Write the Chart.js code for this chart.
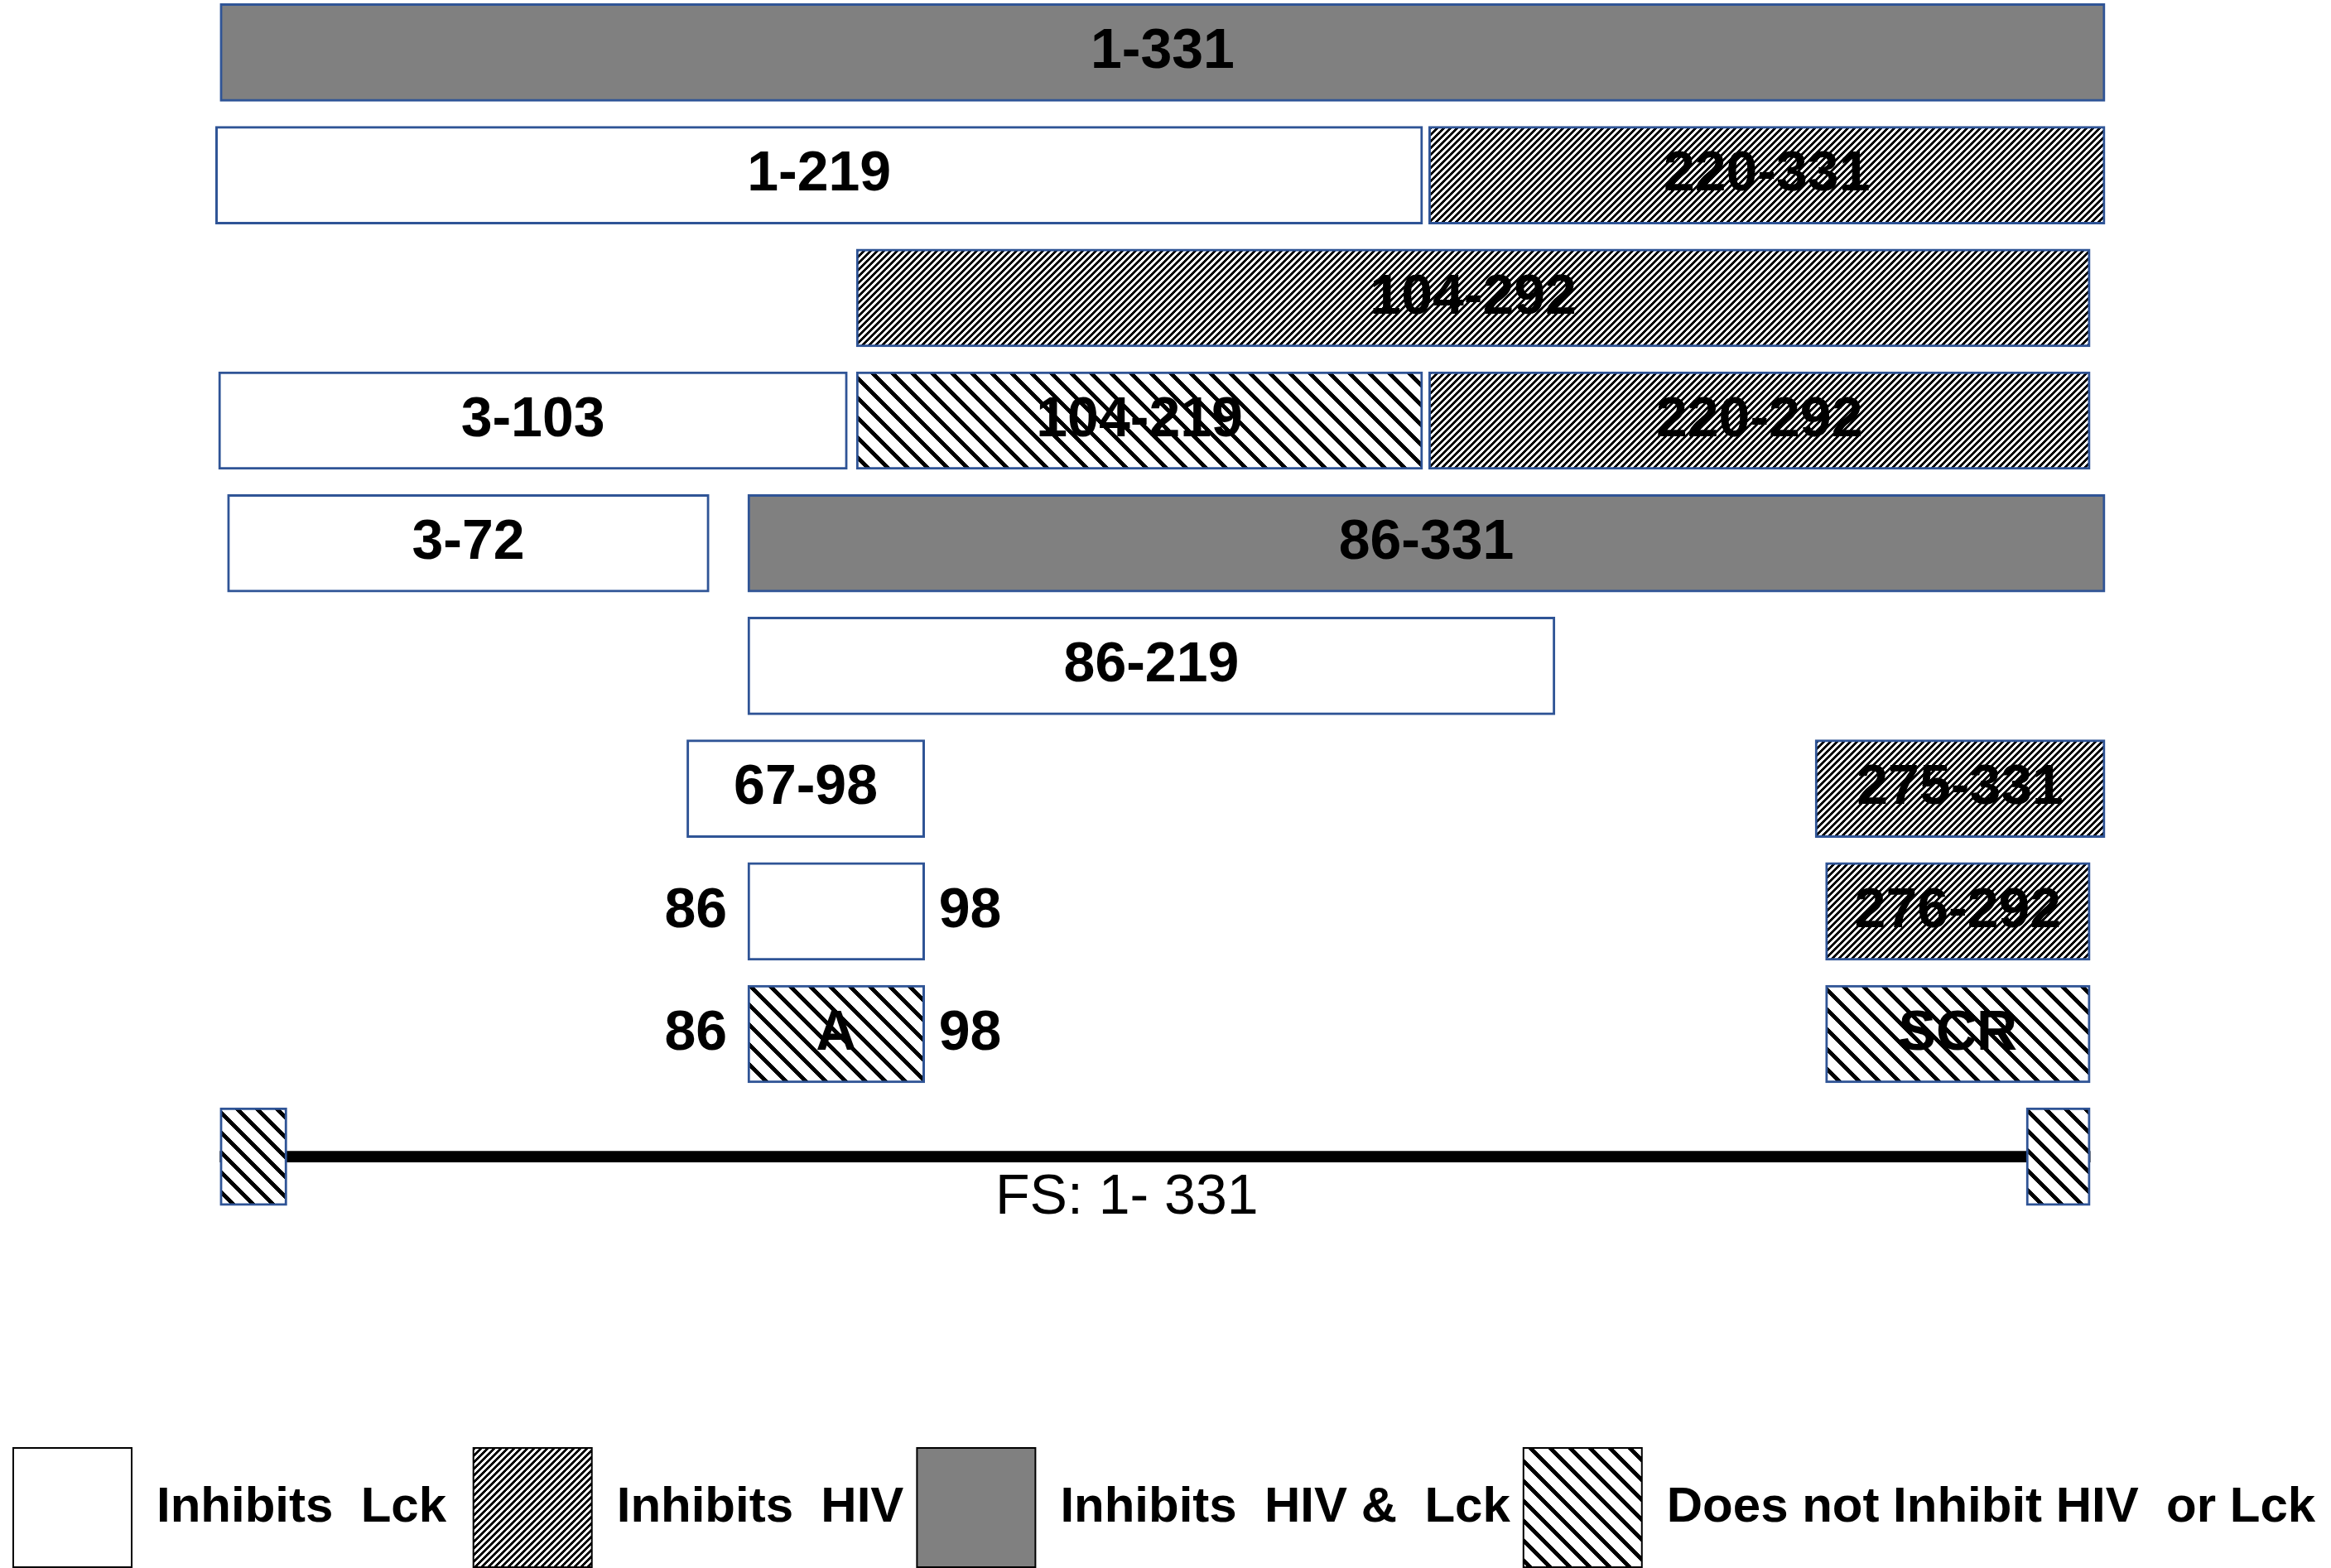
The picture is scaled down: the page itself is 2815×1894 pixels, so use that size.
<!DOCTYPE html>
<html>
<head>
<meta charset="utf-8">
<script src="https://cdn.jsdelivr.net/npm/chart.js@4.4.1/dist/chart.umd.min.js"></script>
<style>
  html, body { margin: 0; padding: 0; background: #fff; overflow: hidden; }
  #wrap { width: 2815px; height: 1894px; }
</style>
</head>
<body>
<div id="wrap"><canvas id="map"></canvas></div>
<script>
// fragments of the protein (positions read along the map, figure units 0-1568)
var fragLabels = ['1-331', '1-219', '220-331', '104-292', '3-103', '104-219', '220-292', '3-72', '86-331',
                  '86-219', '67-98', '275-331', '', '276-292', 'A', 'SCR', '', ''];
var fragRow    = [0, 1, 1, 2, 3, 3, 3, 4, 4, 5, 6, 6, 7, 7, 8, 8, 9, 9];
var fragStart  = [148, 145, 961, 576, 147, 576, 961, 153, 503, 503, 462, 1221, 503, 1228, 503, 1228, 148, 1363];
var fragEnd    = [1416, 957, 1416, 1406, 570, 957, 1406, 477, 1416, 1046, 622, 1416, 622, 1406, 622, 1406, 193, 1406];
var fragClass  = ['both', 'lck', 'hiv', 'hiv', 'lck', 'none', 'hiv', 'lck', 'both',
                  'lck', 'lck', 'hiv', 'lck', 'hiv', 'none', 'none', 'none', 'none'];
var flankLeft  = ['', '', '', '', '', '', '', '', '', '', '', '', '86', '', '86', '', '', ''];
var flankRight = ['', '', '', '', '', '', '', '', '', '', '', '', '98', '', '98', '', '', ''];

// full sequence line
var fsRow = 9;
var fsSpan = [148, 1406];
var captionText = ['FS: 1- 331'];
var captionX = [758];
var captionRow = [9];

// legend
var classKeys = ['lck', 'hiv', 'both', 'none'];
var legendText = ['Inhibits  Lck ', 'Inhibits  HIV', 'Inhibits  HIV &  Lck', 'Does not Inhibit HIV  or Lck'];

var FONT = '"Liberation Sans", Arial, sans-serif';
Chart.defaults.font.family = FONT;

var canvas = document.getElementById('map');
var ctx = canvas.getContext('2d');

// crisp stripe patterns, dir 1 = "/", dir -1 = "\"
function hatch(period, black, dir) {
    var c = document.createElement('canvas');
    c.width = period;
    c.height = period;
    var g = c.getContext('2d');
    var img = g.createImageData(period, period);
    for (var y = 0; y < period; y++) {
        for (var x = 0; x < period; x++) {
            var t = dir > 0 ? (x + y) % period : ((x - y) % period + period) % period;
            var v = t < black ? 0 : 255;
            var k = (y * period + x) * 4;
            img.data[k] = v; img.data[k + 1] = v; img.data[k + 2] = v; img.data[k + 3] = 255;
        }
    }
    g.putImageData(img, 0, 0);
    return ctx.createPattern(c, 'repeat');
}

var classFill = {
    lck: '#ffffff',
    hiv: hatch(8, 4, 1),
    both: '#808080',
    none: hatch(24, 7, -1)
};

var datasets = classKeys.map(function (key) {
    var pts = [], idx = [];
    for (var i = 0; i < fragLabels.length; i++) {
        if (fragClass[i] === key) {
            pts.push({ x: [fragStart[i], fragEnd[i]], y: fragRow[i] });
            idx.push(i);
        }
    }
    return {
        label: key,
        data: pts,
        fragIdx: idx,
        backgroundColor: classFill[key],
        borderColor: '#2F5496',
        borderWidth: 3,
        borderSkipped: false,
        grouped: false,
        barThickness: 118,
        barPercentage: 1,
        clip: false
    };
});

// drawn first, under the end boxes
datasets.push({
    label: 'FS',
    data: [{ x: fsSpan, y: fsRow }],
    backgroundColor: '#000000',
    borderWidth: 0,
    grouped: false,
    barThickness: 13,
    barPercentage: 1,
    clip: false
});

var textPlugin = {
    id: 'fragmentText',
    afterDatasetsDraw: function (chart) {
        var c = chart.ctx;
        c.save();
        c.fillStyle = '#000';
        c.textBaseline = 'middle';
        c.font = 'bold 68px ' + FONT;
        chart.data.datasets.forEach(function (ds, di) {
            if (!ds.fragIdx) return;
            chart.getDatasetMeta(di).data.forEach(function (bar, j) {
                var f = ds.fragIdx[j];
                var p = bar.getCenterPoint();
                var left = Math.min(bar.x, bar.base), right = Math.max(bar.x, bar.base);
                if (fragLabels[f]) {
                    c.textAlign = 'center';
                    c.fillText(fragLabels[f], p.x, p.y);
                }
                if (flankLeft[f]) {
                    c.textAlign = 'right';
                    c.fillText(flankLeft[f], left - 25, p.y);
                }
                if (flankRight[f]) {
                    c.textAlign = 'left';
                    c.fillText(flankRight[f], right + 17, p.y);
                }
            });
        });
        c.font = '68px ' + FONT;
        c.textAlign = 'center';
        var xs = chart.scales.x, ys = chart.scales.y;
        captionText.forEach(function (t, i) {
            c.fillText(t, xs.getPixelForValue(captionX[i]), ys.getPixelForValue(captionRow[i]) + 50);
        });
        c.restore();
    }
};

new Chart(ctx, {
    type: 'bar',
    data: { datasets: datasets },
    options: {
        indexAxis: 'y',
        responsive: true,
        maintainAspectRatio: false,
        animation: false,
        devicePixelRatio: 1,
        layout: { padding: { top: 0, left: 0, right: 0, bottom: -9 } },
        scales: {
            x: { type: 'linear', min: 0, max: 1568, display: false },
            y: { type: 'linear', min: -0.428, max: 11.266, reverse: true, offset: false, display: false }
        },
        plugins: {
            tooltip: { enabled: false },
            legend: {
                position: 'bottom',
                align: 'start',
                onClick: null,
                labels: {
                    boxWidth: 143,
                    boxHeight: 144,
                    padding: 16,
                    color: '#000',
                    font: { size: 60, weight: 'bold' },
                    generateLabels: function () {
                        return classKeys.map(function (key, i) {
                            return {
                                text: legendText[i],
                                fillStyle: classFill[key],
                                strokeStyle: '#000',
                                lineWidth: 2,
                                hidden: false,
                                datasetIndex: i
                            };
                        });
                    }
                }
            }
        }
    },
    plugins: [textPlugin]
});
</script>
</body>
</html>
